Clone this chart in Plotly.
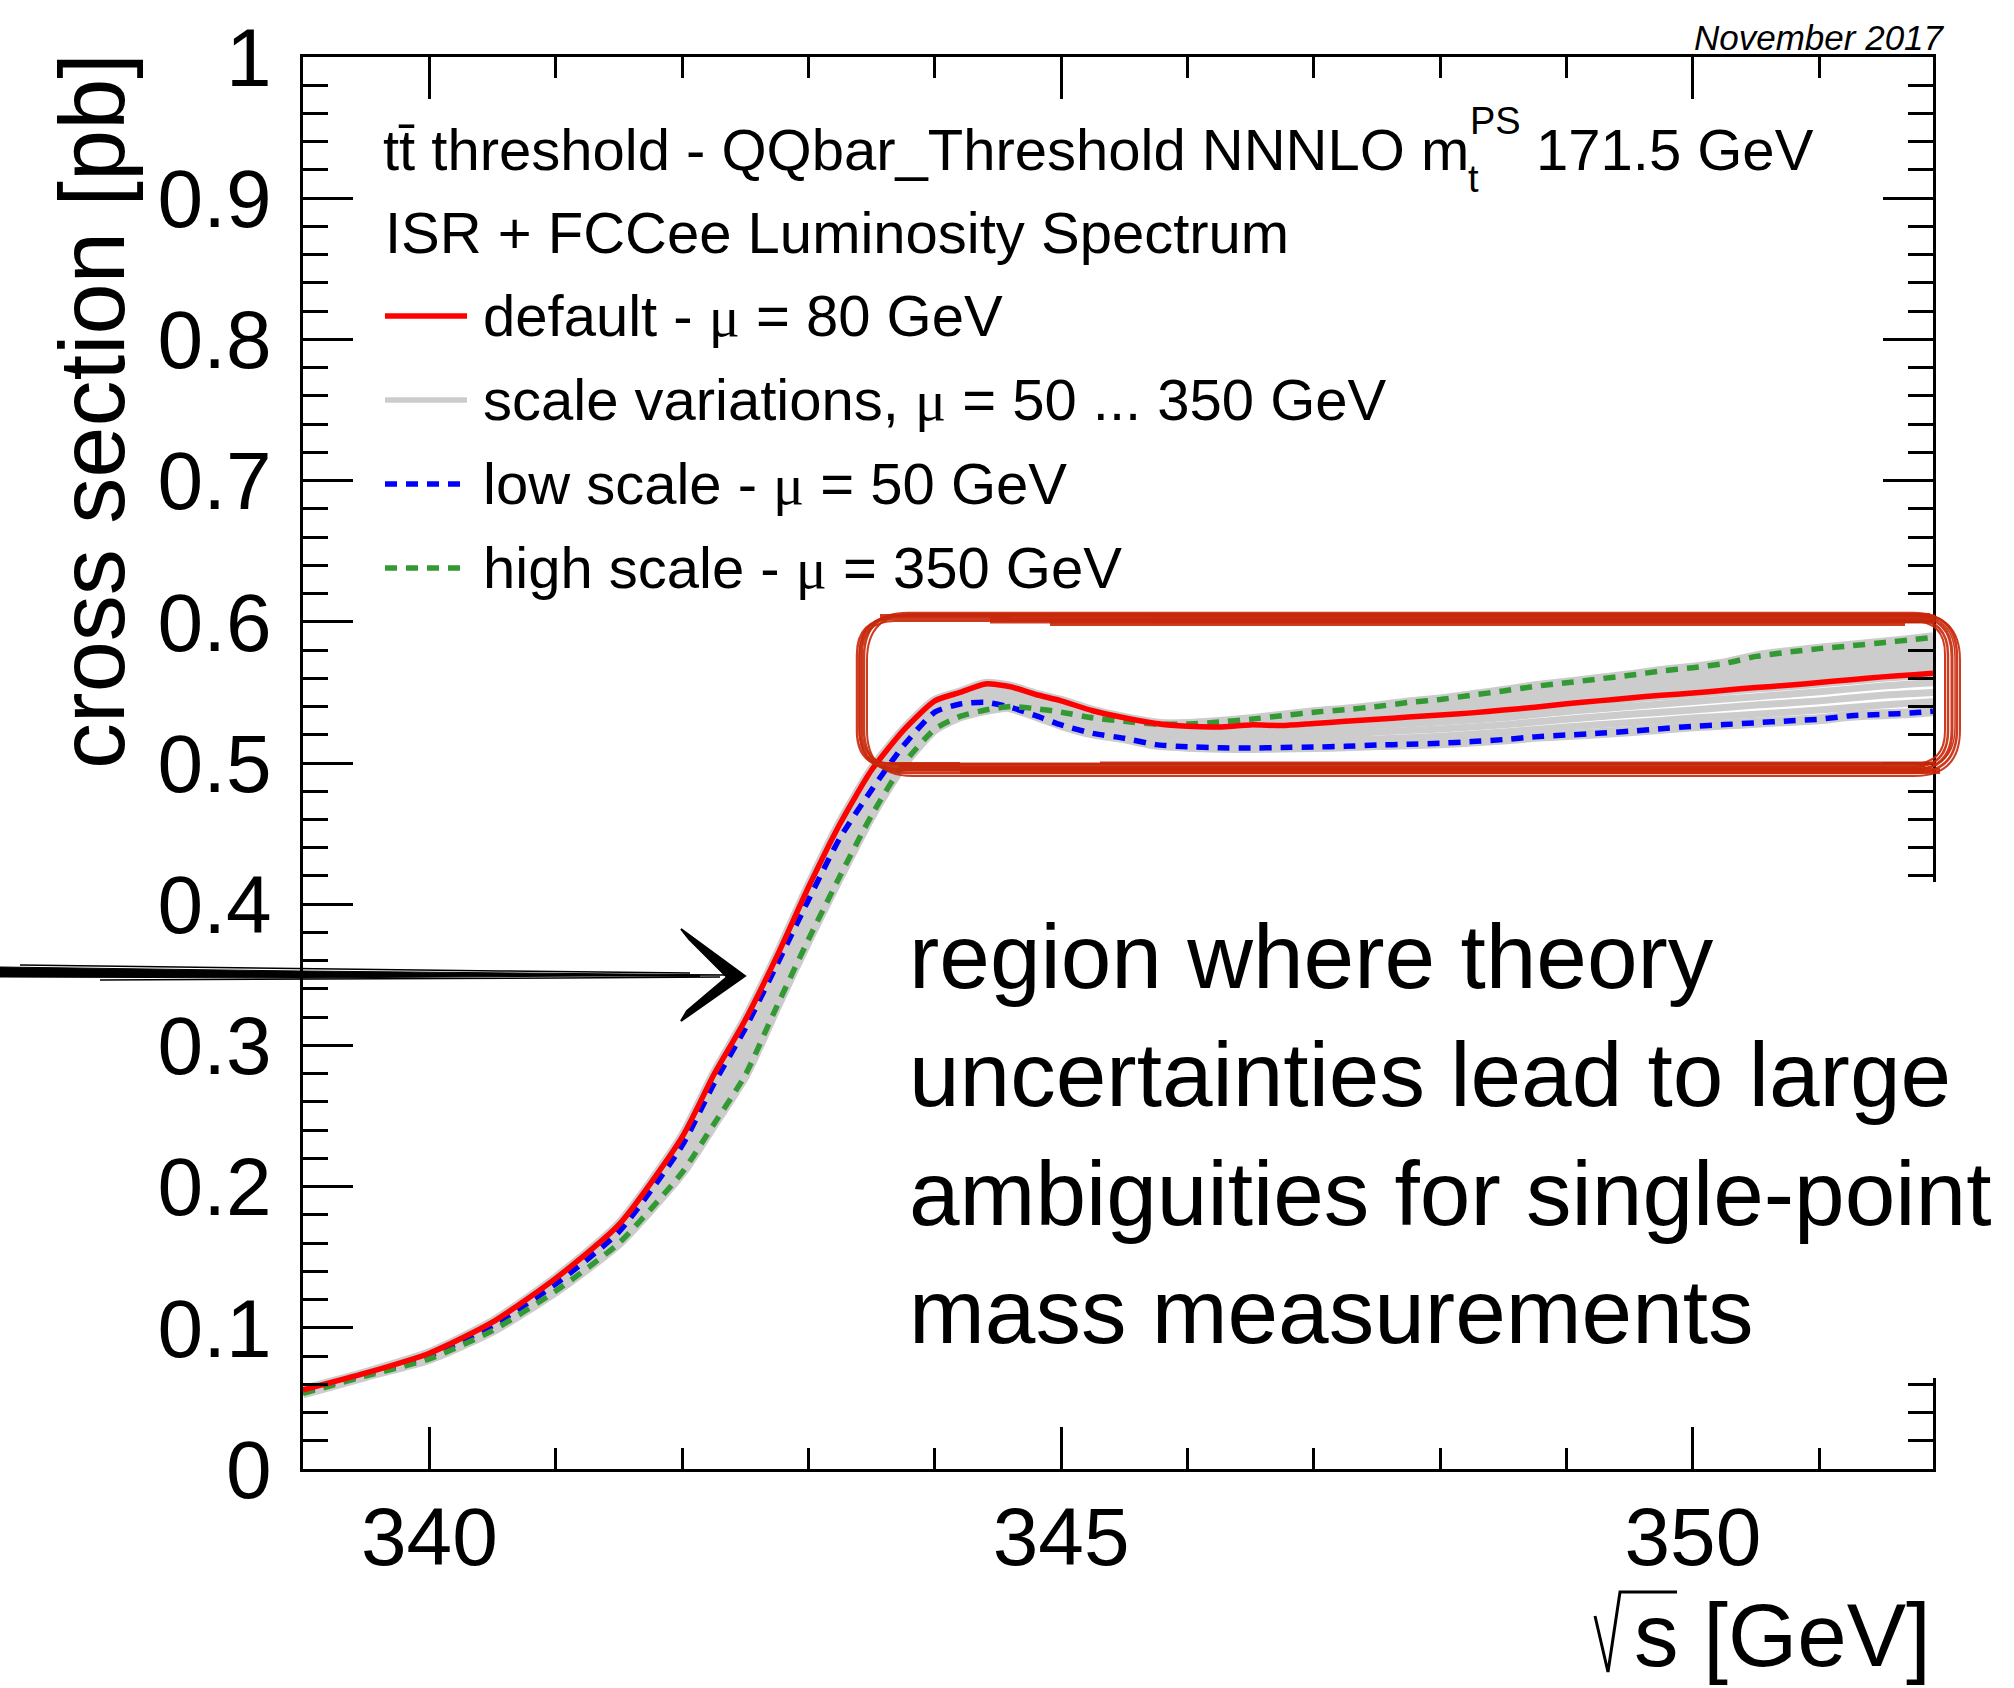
import plotly.graph_objects as go
import numpy as np

# ---------------- data ----------------
sqrt_s = [339.0, 339.5, 340.0, 340.5, 341.0, 341.5, 342.0, 342.25, 342.5, 342.75,
          343.0, 343.25, 343.5, 343.75, 344.0, 344.2, 344.4, 344.6, 344.8, 345.0,
          345.25, 345.5, 345.75, 346.0, 346.25, 346.5, 346.75, 347.0, 347.25, 347.5,
          347.75, 348.0, 348.25, 348.5, 348.75, 349.0, 349.25, 349.5, 349.75, 350.0,
          350.25, 350.5, 350.75, 351.0, 351.25, 351.5, 351.75, 351.9]

xsec_default = [0.056, 0.068, 0.082, 0.104, 0.135, 0.173, 0.235, 0.279, 0.318, 0.363,
                0.412, 0.457, 0.495, 0.523, 0.544, 0.550, 0.556, 0.554, 0.5485, 0.544,
                0.537, 0.532, 0.528, 0.526, 0.5255, 0.527, 0.5265, 0.528, 0.5295, 0.531,
                0.5325, 0.534, 0.5355, 0.5375, 0.5395, 0.542, 0.544, 0.546, 0.548, 0.5495,
                0.5515, 0.5535, 0.555, 0.557, 0.559, 0.561, 0.5625, 0.5635]

xsec_low = [0.0545, 0.067, 0.080, 0.1015, 0.131, 0.168, 0.229, 0.2725, 0.312, 0.357,
            0.403, 0.447, 0.481, 0.512, 0.536, 0.5418, 0.543, 0.5394, 0.5335, 0.527,
            0.521, 0.5175, 0.513, 0.5115, 0.5108, 0.5106, 0.511, 0.5113, 0.5118, 0.5127,
            0.5133, 0.514, 0.5152, 0.5166, 0.5185, 0.5198, 0.521, 0.5225, 0.5243, 0.526,
            0.5272, 0.5285, 0.5298, 0.531, 0.5335, 0.5345, 0.5355, 0.5366]

xsec_high = [0.0535, 0.066, 0.078, 0.098, 0.126, 0.160, 0.210, 0.244, 0.279, 0.3277,
             0.375, 0.420, 0.463, 0.499, 0.524, 0.533, 0.5375, 0.540, 0.5385, 0.536,
             0.532, 0.5295, 0.5275, 0.5276, 0.529, 0.531, 0.5335, 0.536, 0.5378, 0.540,
             0.5429, 0.545, 0.548, 0.551, 0.5543, 0.5568, 0.5595, 0.5621, 0.5652, 0.5675,
             0.5705, 0.5755, 0.5785, 0.581, 0.583, 0.5852, 0.5875, 0.589]

# a few of the intermediate scale-variation curves (below the default curve)
sqrt_s_var = [343.5, 344.0, 344.5, 345.0, 345.5, 346.0, 346.5, 347.0, 347.5, 348.0,
              348.5, 349.0, 349.5, 350.0, 350.5, 351.0, 351.5, 351.9]
xsec_var1 = [0.491, 0.542, 0.552, 0.540, 0.528, 0.522, 0.523, 0.524, 0.5265, 0.529,
             0.532, 0.5365, 0.540, 0.5435, 0.547, 0.5505, 0.5545, 0.5568]
xsec_var2 = [0.488, 0.540, 0.548, 0.5355, 0.5245, 0.5185, 0.519, 0.5195, 0.522, 0.524,
             0.527, 0.531, 0.5345, 0.5375, 0.541, 0.544, 0.548, 0.550]
xsec_var3 = [0.484, 0.538, 0.545, 0.531, 0.521, 0.515, 0.5148, 0.5155, 0.517, 0.519,
             0.522, 0.5255, 0.5285, 0.5318, 0.5345, 0.5375, 0.541, 0.5433]

x_tick_vals = [340, 345, 350]
y_tick_vals = [0, 0.1, 0.2, 0.3, 0.4, 0.5, 0.6, 0.7, 0.8, 0.9, 1.0]
y_tick_text = ["0", "0.1", "0.2", "0.3", "0.4", "0.5", "0.6", "0.7", "0.8", "0.9", "1"]

# ---------------- styling ----------------
FONT = "Liberation Sans, Arial, Helvetica, sans-serif"
SERIF = "Liberation Serif, Times New Roman, serif"
RED = "#ff0000"
BLUE = "#0000ff"
GREEN = "#339933"
GRAY = "#cccccc"
BOXRED = "#c8280a"
DASH = "12px,9px"
SM = 0.6

W, H = 2014, 1688
L, R, T, B = 303, 1933, 57, 1469


def px(v):
    return (v - L) / (R - L)


def py(v):
    return (B - v) / (B - T)


def path_from(points, close=False):
    s = "M " + " L ".join(f"{px(a):.5f},{py(b):.5f}" for a, b in points)
    return s + (" Z" if close else "")


def rrect(x0, y0, x1, y1, r):
    P = lambda a, b: f"{px(a):.5f},{py(b):.5f}"
    return (f"M {P(x0 + r, y0)} L {P(x1 - r, y0)} Q {P(x1, y0)} {P(x1, y0 + r)} "
            f"L {P(x1, y1 - r)} Q {P(x1, y1)} {P(x1 - r, y1)} L {P(x0 + r, y1)} "
            f"Q {P(x0, y1)} {P(x0, y1 - r)} L {P(x0, y0 + r)} Q {P(x0, y0)} {P(x0 + r, y0)} Z")


fig = go.Figure()

# gray band of scale variations
fig.add_trace(go.Scatter(x=sqrt_s, y=xsec_high, mode="lines",
                         line=dict(width=0, color=GRAY, shape="spline", smoothing=SM),
                         hoverinfo="skip", showlegend=False))
fig.add_trace(go.Scatter(x=sqrt_s, y=xsec_default, mode="lines",
                         line=dict(width=0, color=GRAY, shape="spline", smoothing=SM),
                         fill="tonexty", fillcolor=GRAY, hoverinfo="skip", showlegend=False))
for yy in (xsec_high, xsec_low, xsec_default):
    fig.add_trace(go.Scatter(x=sqrt_s, y=yy, mode="lines",
                             line=dict(width=10, color=GRAY, shape="spline", smoothing=SM),
                             hoverinfo="skip", showlegend=False))
for yy in (xsec_var1, xsec_var2, xsec_var3):
    fig.add_trace(go.Scatter(x=sqrt_s_var, y=yy, mode="lines",
                             line=dict(width=7, color=GRAY, shape="spline", smoothing=SM),
                             hoverinfo="skip", showlegend=False))

# main curves
fig.add_trace(go.Scatter(x=sqrt_s, y=xsec_low, mode="lines", name="low scale - μ = 50 GeV",
                         line=dict(width=5.5, color=BLUE, dash=DASH, shape="spline", smoothing=SM),
                         showlegend=False))
fig.add_trace(go.Scatter(x=sqrt_s, y=xsec_high, mode="lines", name="high scale - μ = 350 GeV",
                         line=dict(width=5.5, color=GREEN, dash=DASH, shape="spline", smoothing=SM),
                         showlegend=False))
fig.add_trace(go.Scatter(x=sqrt_s, y=xsec_default, mode="lines", name="default - μ = 80 GeV",
                         line=dict(width=5.5, color=RED, shape="spline", smoothing=SM),
                         showlegend=False))

axis_common = dict(showline=True, linewidth=3, linecolor="black", mirror="allticks",
                   ticks="inside", tickwidth=3, tickcolor="black", showgrid=False,
                   zeroline=False, tickfont=dict(family=FONT, size=82, color="black"))

fig.update_xaxes(range=[339, 351.9], tickvals=x_tick_vals, ticklen=42,
                 ticklabelstandoff=-5,
                 minor=dict(dtick=1, tick0=339, ticks="inside", ticklen=21, tickwidth=3,
                            tickcolor="black", showgrid=False),
                 **axis_common)
fig.update_yaxes(range=[0, 1], tickvals=y_tick_vals, ticktext=y_tick_text, ticklen=50,
                 ticklabelstandoff=12,
                 minor=dict(dtick=0.02, tick0=0, ticks="inside", ticklen=25, tickwidth=3,
                            tickcolor="black", showgrid=False),
                 **axis_common)

shapes = []
# hand-drawn red box
for (x0, y0, x1, y1, r, w) in [(860, 616, 1952, 770, 40, 3), (864, 613, 1957, 773, 44, 2.5),
                                (857, 619, 1948, 767, 36, 2.5), (867, 614, 1960, 776, 46, 2),
                                (862, 621, 1945, 764, 33, 2), (859, 615, 1955, 769, 42, 1.5)]:
    shapes.append(dict(type="path", xref="paper", yref="paper", path=rrect(x0, y0, x1, y1, r),
                       line=dict(color=BOXRED, width=w), opacity=0.9, layer="above"))
for (xa, xb, yv, w) in [(990, 1935, 619, 9), (1050, 1905, 623, 6), (880, 1010, 616, 4),
                        (1150, 1930, 615, 4),
                        (900, 1925, 767, 9), (960, 1940, 771, 6), (880, 960, 764, 4),
                        (1100, 1935, 763, 3)]:
    shapes.append(dict(type="line", xref="paper", yref="paper", x0=px(xa), x1=px(xb),
                       y0=py(yv), y1=py(yv), line=dict(color=BOXRED, width=w), opacity=0.9,
                       layer="above"))

# hand-drawn arrow
arrow_poly = [(0, 967), (300, 971), (735, 975), (300, 978), (0, 977)]
shapes.append(dict(type="path", xref="paper", yref="paper", path=path_from(arrow_poly, True),
                   fillcolor="black", line=dict(color="black", width=1), layer="above"))
for (pts, w) in [([(0, 972), (400, 974), (700, 976)], 2), ([(20, 965), (500, 971), (690, 973)], 1.5),
                 ([(100, 980), (560, 978), (720, 977)], 1.5)]:
    shapes.append(dict(type="path", xref="paper", yref="paper", path=path_from(pts),
                       line=dict(color="black", width=w), layer="above"))
head = [(681, 929), (745, 976), (681, 1021), (687, 1011), (727, 977), (689, 939)]
shapes.append(dict(type="path", xref="paper", yref="paper", path=path_from(head, True),
                   fillcolor="black", line=dict(color="black", width=2), layer="above"))

# white text pad
shapes.append(dict(type="rect", xref="paper", yref="paper", x0=px(890), x1=px(2014),
                   y0=py(882), y1=py(1378), fillcolor="white", line=dict(width=0), layer="above"))

# legend samples
for (yv, col, dash) in [(316, RED, "solid"), (400, GRAY, "solid"), (484, BLUE, DASH),
                        (568, GREEN, DASH)]:
    shapes.append(dict(type="line", xref="paper", yref="paper", x0=px(385), x1=px(467),
                       y0=py(yv), y1=py(yv), line=dict(color=col, width=5.5, dash=dash),
                       layer="above"))

# radical sign of the x-axis title
shapes.append(dict(type="path", xref="paper", yref="paper",
                   path=path_from([(1595, 1616), (1608, 1672), (1620, 1592), (1677, 1592)]),
                   line=dict(color="black", width=3), layer="above"))

fig.update_layout(shapes=shapes)

ann = []


def text(xp, yp, s, size, xanchor="left", yanchor="middle", **kw):
    ann.append(dict(x=px(xp), y=py(yp), xref="paper", yref="paper", text=s, showarrow=False,
                    xanchor=xanchor, yanchor=yanchor, align="left",
                    font=dict(family=FONT, size=size, color="black"), **kw))


MU = f"<span style='font-family:{SERIF}'>μ</span>"
LS = 58
text(381, 149, "tt̄ threshold - QQbar_Threshold NNNLO m", LS)
text(1468, 121, "PS", 38)
text(1466, 179, "t", 38)
text(1534, 149, "171.5 GeV", LS)
text(383, 233, "ISR + FCCee Luminosity Spectrum", LS)
text(481, 316, f"default - {MU} = 80 GeV", LS)
text(481, 400, f"scale variations, {MU} = 50 ... 350 GeV", LS)
text(481, 484, f"low scale - {MU} = 50 GeV", LS)
text(481, 568, f"high scale - {MU} = 350 GeV", LS)

text(907, 1134, "region where theory<br>uncertainties lead to large<br>"
     "ambiguities for single-point<br>mass measurements", 91)

text(1947, 37, "<i>November 2017</i>", 35, xanchor="right")

text(1933, 1635, "s [GeV]", 89, xanchor="right")
text(92, 51, "cross section [pb]", 92, xanchor="center", yanchor="top", textangle=-90)

fig.update_layout(annotations=ann, width=W, height=H,
                  margin=dict(l=L, r=W - R, t=T, b=H - B),
                  paper_bgcolor="white", plot_bgcolor="white", showlegend=False,
                  font=dict(family=FONT, color="black"))

fig.write_html("out.html")
